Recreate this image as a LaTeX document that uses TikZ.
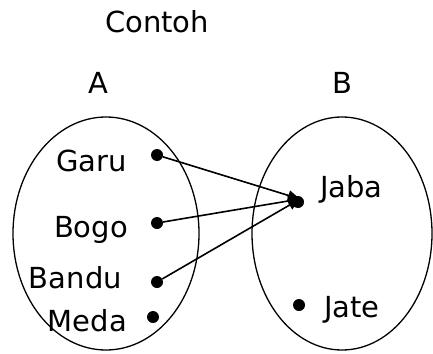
\documentclass[tikz,border=0pt]{standalone}
\usepackage{fontspec}
\setmainfont{DejaVu Sans}
\usepackage{tikz}
\usetikzlibrary{shapes.geometric,arrows.meta}

\begin{document}
\begin{tikzpicture}[
  x=1pt, y=-1pt,
  every node/.style={
    font=\fontsize{29}{32}\selectfont,
  },
  set/.style={
    draw=black,
    line width=1.3pt,
    ellipse,
    inner sep=0pt,
  },
  dot/.style={
    circle,
    fill=black,
    inner sep=0pt,
    minimum size=12pt,
  },
  item/.style={
    anchor=base east,
    inner sep=0pt,
  },
  map/.style={
    line width=1.6pt,
    -{Triangle[length=12pt,width=10pt]},
  }
]
\useasboundingbox (0,0) rectangle (433,353);
\node[inner sep=0pt,anchor=base] (title) at (157,33) {Contoh};
\node[inner sep=0pt,anchor=base] (nameA) at (98,93) {A};
\node[inner sep=0pt,anchor=base] (nameB) at (342,93) {B};
\node[set,minimum width=186pt,minimum height=233pt] (setA) at (106,233.5) {};
\node[set,minimum width=180pt,minimum height=233pt] (setB) at (342,233.5) {};
\foreach \name/\lx/\ly/\dx/\dy in {Garu/127/171/157/155,Bogo/128/237/157/223,
                                   Bandu/122/288/157/282,Meda/127/331/153/317} {
  \node[item] (l\name) at (\lx,\ly) {\name};
  \node[dot] (d\name) at (\dx,\dy) {};
}
\node[dot] (dJaba) at (298,202) {};
\node[dot] (dJate) at (299,305) {};
\node[inner sep=0pt,anchor=base west] (lJaba) at (320,197) {Jaba};
\node[inner sep=0pt,anchor=base west] (lJate) at (324,317) {Jate};
\coordinate (jabaTip) at (300,199);
\foreach \s in {Garu,Bogo,Bandu} {
  \draw[map] (d\s) -- (jabaTip);
}
\end{tikzpicture}
\end{document}
